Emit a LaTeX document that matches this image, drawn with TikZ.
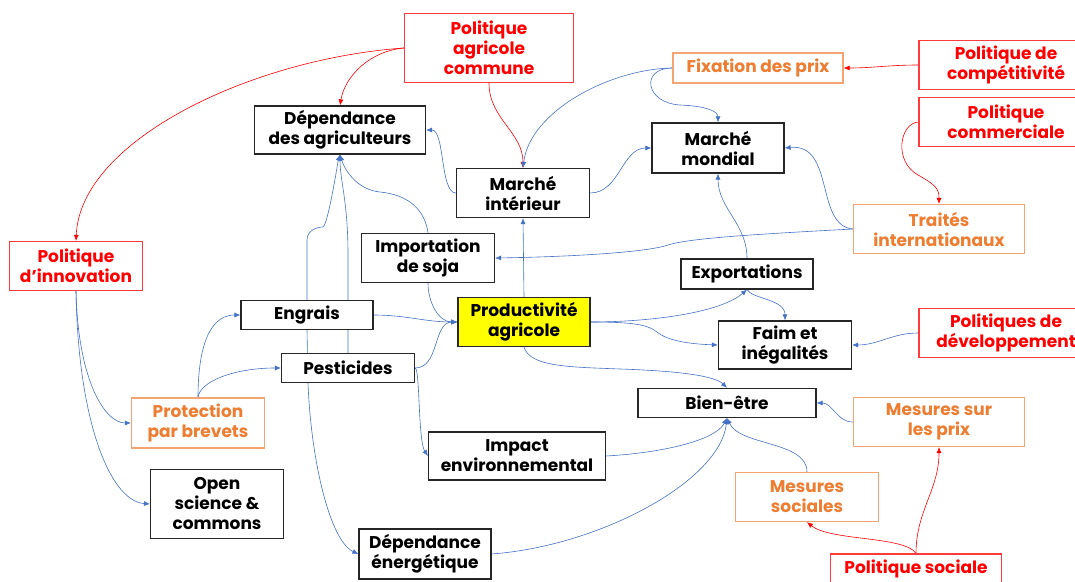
\documentclass[tikz,border=0pt]{standalone}
\usepackage{fontspec}
\setmainfont{Poppins}
\usetikzlibrary{arrows.meta,backgrounds}
\definecolor{cblue}{HTML}{4472C4}
\definecolor{cred}{HTML}{FF0000}
\definecolor{credb}{HTML}{FF3B3B}
\definecolor{corange}{HTML}{ED7D31}
\definecolor{corangeb}{HTML}{F4A470}
\definecolor{cyellow}{HTML}{FFFF00}
\tikzset{
 box/.style={draw=black!85, line width=1.2pt, fill=white, align=center, inner sep=0pt, font=\fontsize{17}{20}\selectfont\bfseries},
 redbox/.style={box, draw=credb, text=cred},
 orbox/.style={box, draw=corangeb, text=corange},
 wh/.style 2 args={minimum width=#1pt, minimum height=#2pt},
 barr/.style={draw=cblue, line width=0.6pt, -{Latex[length=6pt,width=5pt]}},
 rarr/.style={draw=cred, line width=0.6pt, -{Latex[length=6pt,width=5pt]}},
}
\begin{document}
\begin{tikzpicture}[x=1pt,y=1pt]
\useasboundingbox (0,0) rectangle (1075,581);
% nodes
\node[redbox, wh={169}{69}] (pac) at (489,533) {Politique\\agricole\\commune};
\node[box, wh={171}{48}] (depagri) at (340,451) {Dépendance\\des agriculteurs};
\node[redbox, wh={133}{49}] (polinno) at (76,315) {Politique\\d’innovation};
\node[box, wh={133}{49}] (import) at (428,323) {Importation\\de soja};
\node[box, wh={133}{49}] (marchint) at (523,388) {Marché\\intérieur};
\node[box, wh={132}{29}] (engrais) at (307,266) {Engrais};
\node[box, wh={133}{29}] (pest) at (348,213) {Pesticides};
\node[box, wh={132}{49}, fill=cyellow] (prod) at (524,259) {Productivité\\agricole};
\node[orbox, wh={170}{30}] (fix) at (758,513) {Fixation des prix};
\node[box, wh={132}{50}] (mondial) at (718,433) {Marché\\mondial};
\node[box, wh={132}{30}] (export) at (747,307) {Exportations};
\node[box, wh={133}{48}] (faim) at (785,236) {Faim et\\inégalités};
\node[redbox, wh={174}{49}] (polcomp) at (1006,516) {Politique de\\compétitivité};
\node[redbox, wh={174}{49}] (polcomm) at (1006,459) {Politique\\commerciale};
\node[orbox, wh={171}{49}] (traites) at (939,352) {Traités\\internationaux};
\node[redbox, wh={174}{49}] (poldev) at (1006,248) {Politiques de\\développement};
\node[box, wh={178}{29}] (bien) at (727,178) {Bien-être};
\node[orbox, wh={171}{49}] (mprix) at (939,159) {Mesures sur\\les prix};
\node[orbox, wh={143}{49}] (msoc) at (807,84) {Mesures\\sociales};
\node[redbox, wh={171}{30}] (polsoc) at (916,12) {Politique sociale};
\node[box, wh={177}{48}] (impact) at (517,125) {Impact\\environnemental};
\node[orbox, wh={133}{50}] (protect) at (198,158) {Protection\\par brevets};
\node[box, wh={133}{69}] (open) at (217,77) {Open\\science \&\\commons};
\node[box, wh={132}{50}] (depener) at (425,27) {Dépendance\\énergétique};
% connectors
\begin{pgfonlayer}{background}
\draw[rarr] (pac.west) .. controls (370,530) and (345,505) .. (depagri.north);
\draw[rarr] (pac.west) .. controls (250,522) and (80,440) .. (polinno.north);
\draw[rarr] (pac.south) to[out=-90,in=90] (marchint.north);
\draw[barr] (fix.west) .. controls (610,512) and (530,470) .. (marchint.north);
\draw[barr] (fix.west) .. controls (640,513) and (645,478) .. (680,476) .. controls (705,475) and (718,470) .. (mondial.north);
\draw[rarr] (polcomp.west) to[out=180,in=0] (fix.east);
\draw[rarr] (polcomm.west) .. controls (900,458) and (893,420) .. (918,406) .. controls (936,396) and (939,392) .. (traites.north);
\draw[barr] (traites.west) .. controls (815,355) and (835,438) .. (mondial.east);
\draw[barr] (traites.west) .. controls (760,347) and (690,343) .. (668,336) .. controls (645,328) and (560,324) .. (import.east);
\draw[barr] (marchint.east) to[out=0,in=180] (mondial.west);
\draw[barr] (marchint.west) .. controls (440,388) and (445,451) .. (depagri.east);
\draw[barr] (export.north) to[out=90,in=-90] (mondial.south);
\draw[barr] (prod.east) .. controls (650,259) and (720,268) .. (export.south);
\draw[barr] (export.south) .. controls (752,282) and (785,282) .. (faim.north);
\draw[barr] (prod.east) .. controls (635,259) and (648,256) .. (657,249) .. controls (668,240) and (690,237) .. (faim.west);
\draw[barr] (prod.south) .. controls (530,214) and (570,214) .. (620,212) .. controls (680,210) and (715,205) .. (bien.north);
\draw[barr] (poldev.west) to[out=180,in=0] (faim.east);
\draw[barr] (mprix.west) to[out=180,in=0] (bien.east);
\draw[barr] (msoc.north) .. controls (807,140) and (740,135) .. (bien.south);
\draw[barr] (impact.east) .. controls (660,128) and (715,140) .. (bien.south);
\draw[barr] (depener.east) .. controls (600,35) and (720,100) .. (bien.south);
\draw[rarr] (polsoc.north) .. controls (905,45) and (830,40) .. (msoc.south);
\draw[rarr] (polsoc.north) to[out=90,in=-90] (mprix.south);
\draw[barr] (prod.north) -- (marchint.south);
\draw[barr] (import.south) to[out=-90,in=180] (prod.west);
\draw[barr] (engrais.east) to[out=0,in=180] (prod.west);
\draw[barr] (pest.east) to[out=0,in=180] (prod.west);
\draw[barr] (import.north) .. controls (425,370) and (410,386) .. (380,389) .. controls (358,391) and (345,410) .. (depagri.south);
\draw[barr] (engrais.north) -- (307,341) .. controls (307,350) and (316,354) .. (323,354) .. controls (328,356) and (338,420) .. (depagri.south);
\draw[barr] (pest.north -| 348,0) -- (348,326) .. controls (348,380) and (340,400) .. (depagri.south);
\draw[barr] (engrais.south) -- (308,198) .. controls (311,120) and (330,40) .. (depener.west);
\draw[barr] (pest.east) .. controls (420,213) and (418,140) .. (impact.west);
\draw[barr] (protect.north) to[out=90,in=180] (engrais.west);
\draw[barr] (protect.north) .. controls (200,200) and (235,213) .. (pest.west);
\draw[barr] (polinno.south) .. controls (78,200) and (105,158) .. (protect.west);
\draw[barr] (polinno.south) .. controls (78,160) and (110,80) .. (open.west);
\end{pgfonlayer}
\end{tikzpicture}
\end{document}
